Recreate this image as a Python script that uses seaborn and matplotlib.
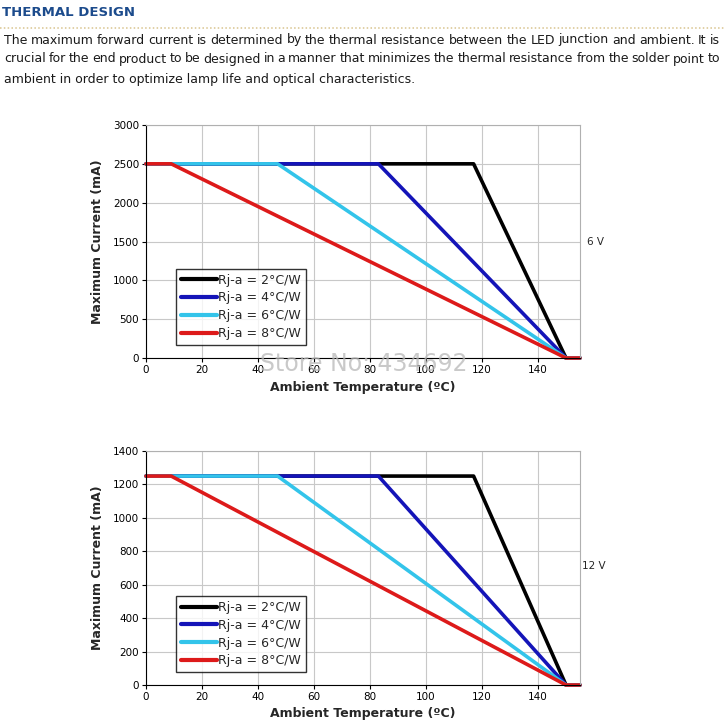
import numpy as np
import pandas as pd
import seaborn as sns
import matplotlib.pyplot as plt
from matplotlib.lines import Line2D

# curve break points
labels = ['Rj-a = 2°C/W', 'Rj-a = 4°C/W', 'Rj-a = 6°C/W', 'Rj-a = 8°C/W']
colors = ['#000000', '#1414b8', '#33c4ea', '#dd1a1a']
temp_2 = [0, 117, 150, 155]
temp_4 = [0, 83, 150, 155]
temp_6 = [0, 47, 150, 155]
temp_8 = [0, 9, 150, 155]
frac = [1, 1, 0, 0]            # fraction of max current at each break point
imax_6v = 2500
imax_12v = 1250
yticks_6v = [0, 500, 1000, 1500, 2000, 2500, 3000]
yticks_12v = [0, 200, 400, 600, 800, 1000, 1200, 1400]
xticks = [0, 20, 40, 60, 80, 100, 120, 140]

para = ["The maximum forward current is determined by the thermal resistance between the LED junction and ambient. It is",
        "crucial for the end product to be designed in a manner that minimizes the thermal resistance from the solder point to",
        "ambient in order to optimize lamp life and optical characteristics."]

sns.set_style('white')
plt.rcParams['font.family'] = ['DejaVu Sans']

fig = plt.figure(figsize=(7.25, 7.27), dpi=100)
W, H = 725, 727


def make_df(imax):
    rows = []
    for lab, t in zip(labels, [temp_2, temp_4, temp_6, temp_8]):
        for x, f in zip(t, frac):
            rows.append({'T': x, 'I': f * imax, 'Rja': lab})
    return pd.DataFrame(rows)


def draw(rect, imax, yticks, legend_y, vlabel, vlabel_y):
    ax = fig.add_axes(rect)
    df = make_df(imax)
    sns.lineplot(data=df, x='T', y='I', hue='Rja', palette=colors, linewidth=2.6,
                 sort=False, estimator=None, legend=False, ax=ax, clip_on=False)
    ax.set_xlim(0, 155)
    ax.set_ylim(0, yticks[-1])
    ax.set_xticks(xticks)
    ax.set_yticks(yticks)
    ax.tick_params(labelsize=7.5, length=3, width=0.8, colors='black', direction='out',
                   left=True, bottom=True, pad=2)
    ax.grid(True, color='#c8c8c8', linewidth=0.8)
    for s in ['top', 'right']:
        ax.spines[s].set_color('#b0b0b0')
    for s in ['left', 'bottom']:
        ax.spines[s].set_color('black')
    ax.set_xlabel('Ambient Temperature (ºC)', fontsize=9, fontweight='bold', labelpad=4)
    ax.set_ylabel('Maximum Current (mA)', fontsize=9, fontweight='bold', labelpad=6)
    handles = [Line2D([0], [0], color=c, lw=3) for c in colors]
    leg = ax.legend(handles, labels, loc='lower left', bbox_to_anchor=(0.068, legend_y),
                    fontsize=9, frameon=True, fancybox=False, handlelength=2.9,
                    handletextpad=0.1, borderpad=0.4, labelspacing=0.38,
                    borderaxespad=0)
    leg.get_frame().set_edgecolor('black')
    leg.get_frame().set_linewidth(1.0)
    fig.text(vlabel[1] / W, 1 - vlabel_y / H, vlabel[0], fontsize=7.5, va='center')
    return ax


ax1 = draw([146 / W, 1 - 358 / H, 434 / W, 233 / H], imax_6v, yticks_6v, 0.056,
           ('6 V', 587), 242)
ax2 = draw([146 / W, 1 - 685 / H, 434 / W, 234 / H], imax_12v, yticks_12v, 0.054,
           ('12 V', 582), 566)

# header
fig.text(2 / W, 1 - 12 / H, 'THERMAL DESIGN', fontsize=9.5, fontweight='bold',
         color='#1c4b8c', va='center')
fig.add_artist(Line2D([0, 1], [1 - 28 / H, 1 - 28 / H], color='#d9c48e', lw=1.1,
                      linestyle=(0, (1, 1.5))))

# paragraph, first two lines justified to the page width
renderer = fig.canvas.get_renderer()
line_y = [40, 59, 79]
for i, (txt, y) in enumerate(zip(para, line_y)):
    if i < 2:
        words = txt.split(' ')
        arts = [fig.text(0, 1 - y / H, w, fontsize=9.0, va='center', color='#1a1a1a')
                for w in words]
        widths = [a.get_window_extent(renderer).width for a in arts]
        gap = (720 - 4 - sum(widths)) / (len(words) - 1)
        x = 4
        for a, w in zip(arts, widths):
            a.set_x(x / W)
            x += w + gap
    else:
        fig.text(4 / W, 1 - y / H, txt, fontsize=9.0, va='center', color='#1a1a1a')

# watermark
fig.text(364 / W, 1 - 364 / H, 'Store No: 434692', fontsize=17, color='#b8b8b8',
         alpha=0.75, ha='center', va='center')

fig.savefig('out.png', dpi=100)
